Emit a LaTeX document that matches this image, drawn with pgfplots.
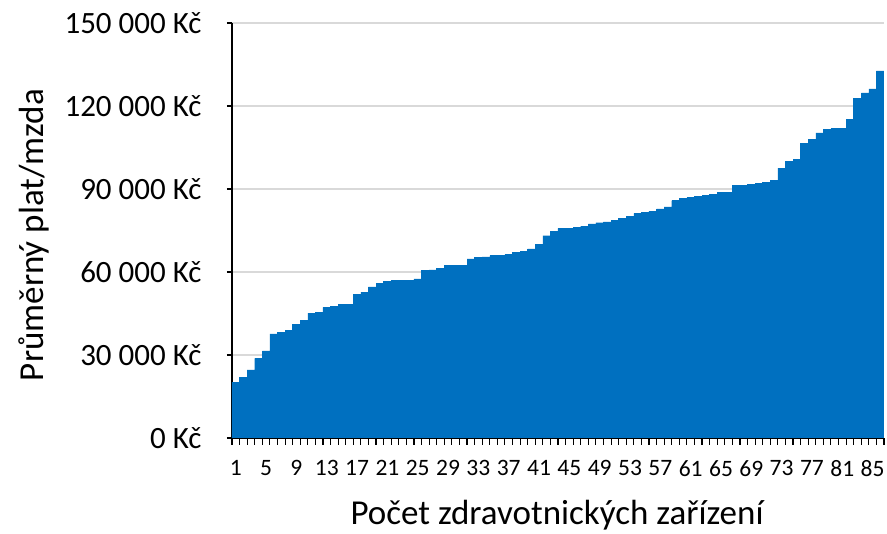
\documentclass[border=0pt]{standalone}
\usepackage{pgfplots}
\pgfplotsset{compat=1.18}
\usepackage{pgfplotstable}
\usepackage{fontspec}
\setmainfont{Carlito}
\definecolor{barblue}{RGB}{0,112,192}
\definecolor{gridgray}{RGB}{217,217,217}
\pgfplotstableread{
x y
1 20100
2 21900
3 24600
4 28800
5 31500
6 37600
7 38100
8 39000
9 41100
10 42400
11 45100
12 45500
13 47200
14 47600
15 48400
16 48400
17 51900
18 52700
19 54600
20 55800
21 56500
22 56900
23 57100
24 57100
25 57500
26 60500
27 60800
28 61400
29 62300
30 62300
31 62300
32 64700
33 65200
34 65500
35 65900
36 66100
37 66400
38 67000
39 67500
40 68400
41 70100
42 73100
43 74800
44 75800
45 75800
46 76100
47 76600
48 77400
49 77800
50 78100
51 78700
52 79400
53 80200
54 81200
55 81600
56 82000
57 82800
58 83500
59 85800
60 86600
61 86900
62 87300
63 87600
64 88000
65 88800
66 88900
67 91200
68 91200
69 91800
70 92000
71 92500
72 93200
73 97500
74 100000
75 100800
76 106400
77 108000
78 110300
79 111500
80 111800
81 111800
82 115200
83 122800
84 124700
85 126200
86 132700
}\datatable
\begin{document}
\begin{tikzpicture}
\begin{axis}[
  scale only axis, width=652pt, height=415pt,
  xmin=0.5, xmax=86.5, ymin=0, ymax=150000,
  axis x line*=bottom, axis y line*=left,
  axis line style={line width=1.6pt, black},
  tick align=outside,
  xtick={1,5,...,85},
  xticklabels={1,5,9,13,17,21,25,29,33,37,41,45,49,53,57,61,65,69,73,77,81,85},
  minor xtick={0.5,1.5,...,86.5},
  major x tick style={draw=none},
  minor x tick style={line width=1.1pt, black},
  minor tick length=7pt,
  major tick length=5pt,
  ytick={0,30000,60000,90000,120000,150000},
  yticklabels={0 Kč, 30 000 Kč, 60 000 Kč, 90 000 Kč, 120 000 Kč, 150 000 Kč},
  scaled y ticks=false,
  ytick style={line width=1.4pt, black},
  ymajorgrids=true,
  grid style={gridgray, line width=1.4pt},
  x tick label style={font=\fontsize{23.5}{27}\selectfont, yshift=-14pt},
  y tick label style={font=\fontsize{31}{35}\selectfont, xshift=-22pt},
  xlabel={Počet zdravotnických zařízení},
  ylabel={Průměrný plat/mzda},
  xlabel style={font=\fontsize{35}{40}\selectfont, at={(axis description cs:0.4985,-0.2095)}, anchor=base},
  ylabel style={font=\fontsize{35}{40}\selectfont, at={(axis description cs:-0.3037,0.489)}, anchor=center},
]
\addplot[ybar, bar width=1, bar shift=0pt, fill=barblue, draw=barblue, line width=0.4pt] table[x=x,y=y] {\datatable};
\end{axis}
\pgfresetboundingbox
\path (-232pt,-96pt) rectangle (655pt,438pt);
\end{tikzpicture}
\end{document}
